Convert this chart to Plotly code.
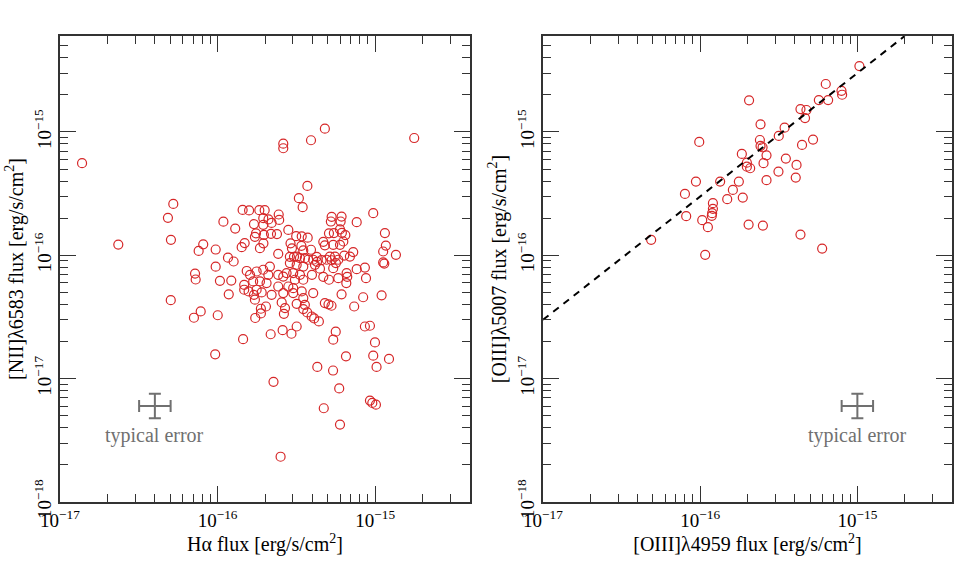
import math
import plotly.graph_objects as go

# ---------------- data (log10 fluxes, erg/s/cm^2) ----------------
ha_log = [-16.860, -16.630, -16.281, -16.315, -16.296, -16.091, -16.120, -16.012, -15.963, -15.888,
          -15.841, -15.800, -15.735, -15.701, -15.769, -15.828, -15.847, -15.934, -15.898, -16.012,
          -16.143, -16.139, -15.985, -15.913, -15.815, -15.794, -15.831, -15.831, -15.803, -15.929,
          -16.297, -16.107, -16.150, -15.999, -15.838, -15.761, -15.769, -16.015, -15.725, -15.693,
          -15.763, -15.593, -15.572, -15.579, -15.498, -15.446, -15.456, -15.431, -15.387, -15.357,
          -15.663, -15.587, -15.531, -15.498, -15.645, -15.600, -15.367, -15.267, -15.228, -15.326,
          -15.223, -15.185, -15.250, -15.266, -15.319, -15.277, -15.133, -15.720, -15.657, -15.520,
          -15.393, -15.456, -15.213, -15.076, -14.959, -15.065, -15.033, -15.001, -15.012, -14.912,
          -14.991, -15.033, -15.018, -14.995, -15.319, -15.583, -15.583, -15.407, -14.752, -15.430,
          -15.484, -15.460, -15.012, -15.276, -15.281, -15.213, -15.219, -15.117, -15.612, -15.609,
          -15.677, -15.657, -15.710, -15.551, -14.938, -15.293, -15.262, -15.223, -15.211, -15.189,
          -15.501, -15.466, -15.428, -15.661, -15.623, -15.706, -15.756, -15.763, -15.709, -15.731,
          -15.329, -15.319, -15.223, -15.202, -15.266, -14.932, -14.949, -14.868, -15.537, -15.528,
          -15.615, -15.468, -15.407, -15.456, -15.541, -15.515, -15.496, -15.477, -15.446, -15.425,
          -15.393, -15.371, -15.369, -15.340, -15.308, -15.287, -15.255, -15.276, -15.249, -15.541,
          -15.196, -15.139, -15.160, -14.949, -14.942, -15.117, -15.065, -15.058, -15.181, -15.177,
          -15.183, -15.329, -15.293, -15.234, -15.382, -15.350, -15.401, -15.266, -15.234, -15.498,
          -15.456, -15.752, -15.710, -15.668, -15.678, -15.615, -15.583, -15.562, -15.520, -15.477,
          -15.509, -15.456, -15.774, -15.731, -15.689, -15.615, -15.551, -15.520, -15.466, -15.752,
          -15.583, -15.296, -15.725, -15.403, -15.710]
nii_log = [-15.253, -15.913, -15.583, -15.696, -15.874, -15.911, -15.964, -15.953, -15.727, -15.783,
           -15.632, -15.636, -15.634, -15.634, -15.747, -15.901, -15.934, -16.019, -16.050, -16.092,
           -16.148, -16.196, -16.207, -16.205, -16.127, -16.158, -16.239, -16.279, -16.293, -16.316,
           -16.364, -16.455, -16.506, -16.486, -16.680, -16.508, -16.320, -16.803, -16.471, -16.415,
           -16.360, -16.382, -16.428, -16.474, -16.393, -16.401, -16.436, -16.463, -16.512, -16.536,
           -16.640, -16.607, -16.636, -16.577, -17.026, -17.633, -16.905, -16.934, -17.079, -17.240,
           -17.372, -16.819, -16.619, -16.684, -16.387, -16.409, -16.415, -16.301, -16.320, -16.306,
           -16.306, -16.347, -16.316, -16.340, -16.324, -16.577, -16.571, -16.706, -16.814, -16.840,
           -16.905, -17.178, -17.197, -17.211, -14.973, -15.095, -15.132, -15.067, -15.049, -15.437,
           -15.537, -15.610, -15.658, -15.688, -15.726, -15.686, -15.726, -15.731, -15.669, -15.713,
           -15.709, -15.737, -15.699, -15.794, -15.820, -15.822, -15.820, -15.790, -15.818, -15.836,
           -15.845, -15.846, -15.857, -15.826, -15.828, -15.834, -15.822, -15.850, -15.903, -15.942,
           -15.891, -15.919, -15.915, -15.888, -15.915, -15.921, -15.969, -15.996, -15.903, -15.943,
           -15.988, -15.923, -15.955, -15.960, -16.012, -16.012, -16.010, -16.023, -16.023, -16.036,
           -16.036, -16.012, -16.053, -16.039, -16.036, -16.010, -16.010, -16.040, -16.063, -16.063,
           -16.002, -15.974, -16.010, -16.058, -16.067, -16.112, -16.099, -16.185, -16.144, -16.174,
           -16.225, -16.174, -16.198, -16.185, -16.077, -16.108, -16.158, -16.104, -16.036, -16.077,
           -16.091, -16.131, -16.117, -16.091, -16.158, -16.158, -16.172, -16.144, -16.144, -16.158,
           -16.198, -16.198, -16.212, -16.212, -16.225, -16.253, -16.253, -16.266, -16.293, -16.279,
           -16.306, -16.397, -16.433, -16.496, -15.753]

oiii4959_log = [-15.689, -16.006, -15.735, -15.703, -15.703, -15.682, -16.027, -15.873, -15.754, -16.097,
                -15.792, -15.828, -15.729, -15.919, -15.919, -15.924, -15.926, -16.089, -15.987, -15.951,
                -15.692, -16.312, -15.968, -14.987, -15.201, -15.101, -15.097, -15.245, -15.186, -15.362,
                -15.324, -15.333, -15.463, -15.616, -15.500, -15.282, -15.352, -15.620, -15.616, -15.603,
                -15.578, -15.455, -15.597, -15.387, -15.392, -15.502, -15.578, -15.601, -15.362, -15.224]
oiii5007_log = [-14.743, -15.081, -15.178, -15.249, -15.281, -15.294, -15.402, -15.402, -15.402, -15.502,
                -15.470, -15.545, -15.532, -15.577, -15.623, -15.658, -15.680, -15.683, -15.715, -15.772,
                -15.751, -15.874, -15.996, -14.466, -14.611, -14.666, -14.698, -14.741, -14.741, -14.814,
                -14.822, -14.887, -14.965, -14.938, -15.032, -15.062, -15.105, -15.065, -15.113, -15.124,
                -15.189, -15.216, -15.253, -15.267, -15.370, -15.321, -15.391, -15.759, -15.832, -15.945]

line_ratio = 3.0            # [OIII]5007 / [OIII]4959
line_x = [1e-17, 2e-15]
err_dex = 0.1               # typical error (dex)
err_left = (4e-17, 6e-18)
err_right = (1e-15, 6e-18)
err_label = "typical error"

x_tickvals = [1e-17, 1e-16, 1e-15]
x_ticktext = ["10<sup>\u221217</sup>", "10<sup>\u221216</sup>", "10<sup>\u221215</sup>"]
y_tickvals = [1e-18, 1e-17, 1e-16, 1e-15]
y_ticktext = ["10<sup>\u221218</sup>", "10<sup>\u221217</sup>", "10<sup>\u221216</sup>", "10<sup>\u221215</sup>"]

x_range = [-17, math.log10(4e-15)]
y_range = [-18, math.log10(6e-15)]

ha = [10 ** v for v in ha_log]
nii = [10 ** v for v in nii_log]
o4959 = [10 ** v for v in oiii4959_log]
o5007 = [10 ** v for v in oiii5007_log]

RED = "#d62728"
GRAY = "#707070"
AX = "#333333"
FONT = "Liberation Serif, Times New Roman, serif"

minor_x = [k * 10.0 ** e for e in range(-17, -14) for k in range(2, 10) if k * 10.0 ** e < 4e-15]
minor_y = [k * 10.0 ** e for e in range(-18, -14) for k in range(2, 10) if k * 10.0 ** e < 6e-15]

fig = go.Figure()

marker = dict(symbol="circle-open", size=9, color=RED, line=dict(color=RED, width=1.2))
fig.add_trace(go.Scatter(x=ha, y=nii, mode="markers", marker=marker, xaxis="x", yaxis="y",
                         showlegend=False, hoverinfo="skip"))
fig.add_trace(go.Scatter(x=o4959, y=o5007, mode="markers", marker=marker, xaxis="x2", yaxis="y2",
                         showlegend=False, hoverinfo="skip"))
fig.add_trace(go.Scatter(x=line_x, y=[line_ratio * v for v in line_x], mode="lines",
                         line=dict(color="black", width=2, dash="7px,6px"), xaxis="x2", yaxis="y2",
                         showlegend=False, hoverinfo="skip"))


def err_trace(pt, xa, ya):
    x0, y0 = pt
    up = 10 ** err_dex - 1
    dn = 1 - 10 ** (-err_dex)
    return go.Scatter(
        x=[x0], y=[y0], mode="markers", marker=dict(size=1, color="rgba(0,0,0,0)"),
        error_x=dict(type="data", symmetric=False, array=[x0 * up], arrayminus=[x0 * dn],
                     color=GRAY, thickness=2, width=6),
        error_y=dict(type="data", symmetric=False, array=[y0 * up], arrayminus=[y0 * dn],
                     color=GRAY, thickness=2, width=6),
        xaxis=xa, yaxis=ya, showlegend=False, hoverinfo="skip")


fig.add_trace(err_trace(err_left, "x", "y"))
fig.add_trace(err_trace(err_right, "x2", "y2"))

for pt, xr, yr in [(err_left, "x", "y"), (err_right, "x2", "y2")]:
    fig.add_annotation(x=math.log10(pt[0]), y=math.log10(pt[1]) - 0.24, xref=xr, yref=yr,
                       text=err_label, showarrow=False, font=dict(family=FONT, size=20, color=GRAY))


def xaxis(domain, title, anchor):
    return dict(type="log", domain=domain, range=x_range, anchor=anchor, automargin=False,
                showline=True, linecolor=AX, linewidth=1.5, mirror="allticks",
                ticks="inside", ticklen=16, tickwidth=1.2, tickcolor=AX,
                tickvals=x_tickvals, ticktext=x_ticktext, showgrid=False, zeroline=False,
                minor=dict(ticks="inside", ticklen=8, tickwidth=1.2, tickcolor=AX, tickvals=minor_x, showgrid=False),
                tickfont=dict(family=FONT, size=19, color="black"),
                title=dict(text=title, font=dict(family=FONT, size=20, color="black"), standoff=4))


def yaxis(domain, title, anchor):
    return dict(type="log", domain=domain, range=y_range, anchor=anchor, automargin=False,
                showline=True, linecolor=AX, linewidth=1.5, mirror="allticks",
                ticks="inside", ticklen=16, tickwidth=1.2, tickcolor=AX,
                tickvals=y_tickvals, ticktext=y_ticktext, tickangle=-90, showgrid=False, zeroline=False,
                minor=dict(ticks="inside", ticklen=8, tickwidth=1.2, tickcolor=AX, tickvals=minor_y, showgrid=False),
                tickfont=dict(family=FONT, size=19, color="black"),
                title=dict(text=title, font=dict(family=FONT, size=20, color="black"), standoff=2))


ydom = [1 - 502 / 563, 1 - 36 / 563]
fig.update_layout(
    width=965, height=563,
    margin=dict(l=0, r=0, t=0, b=0, autoexpand=False),
    paper_bgcolor="white", plot_bgcolor="white",
    xaxis=xaxis([60 / 965, 470 / 965], "H\u03b1 flux [erg/s/cm<sup>2</sup>]", "y"),
    yaxis=yaxis(ydom, "[NII]\u03bb6583 flux [erg/s/cm<sup>2</sup>]", "x"),
    xaxis2=xaxis([543 / 965, 952 / 965], "[OIII]\u03bb4959 flux [erg/s/cm<sup>2</sup>]", "y2"),
    yaxis2=yaxis(ydom, "[OIII]\u03bb5007 flux [erg/s/cm<sup>2</sup>]", "x2"),
)

fig.write_html("out.html", config={"displayModeBar": False},
               post_script="document.body.style.margin='0px';")
